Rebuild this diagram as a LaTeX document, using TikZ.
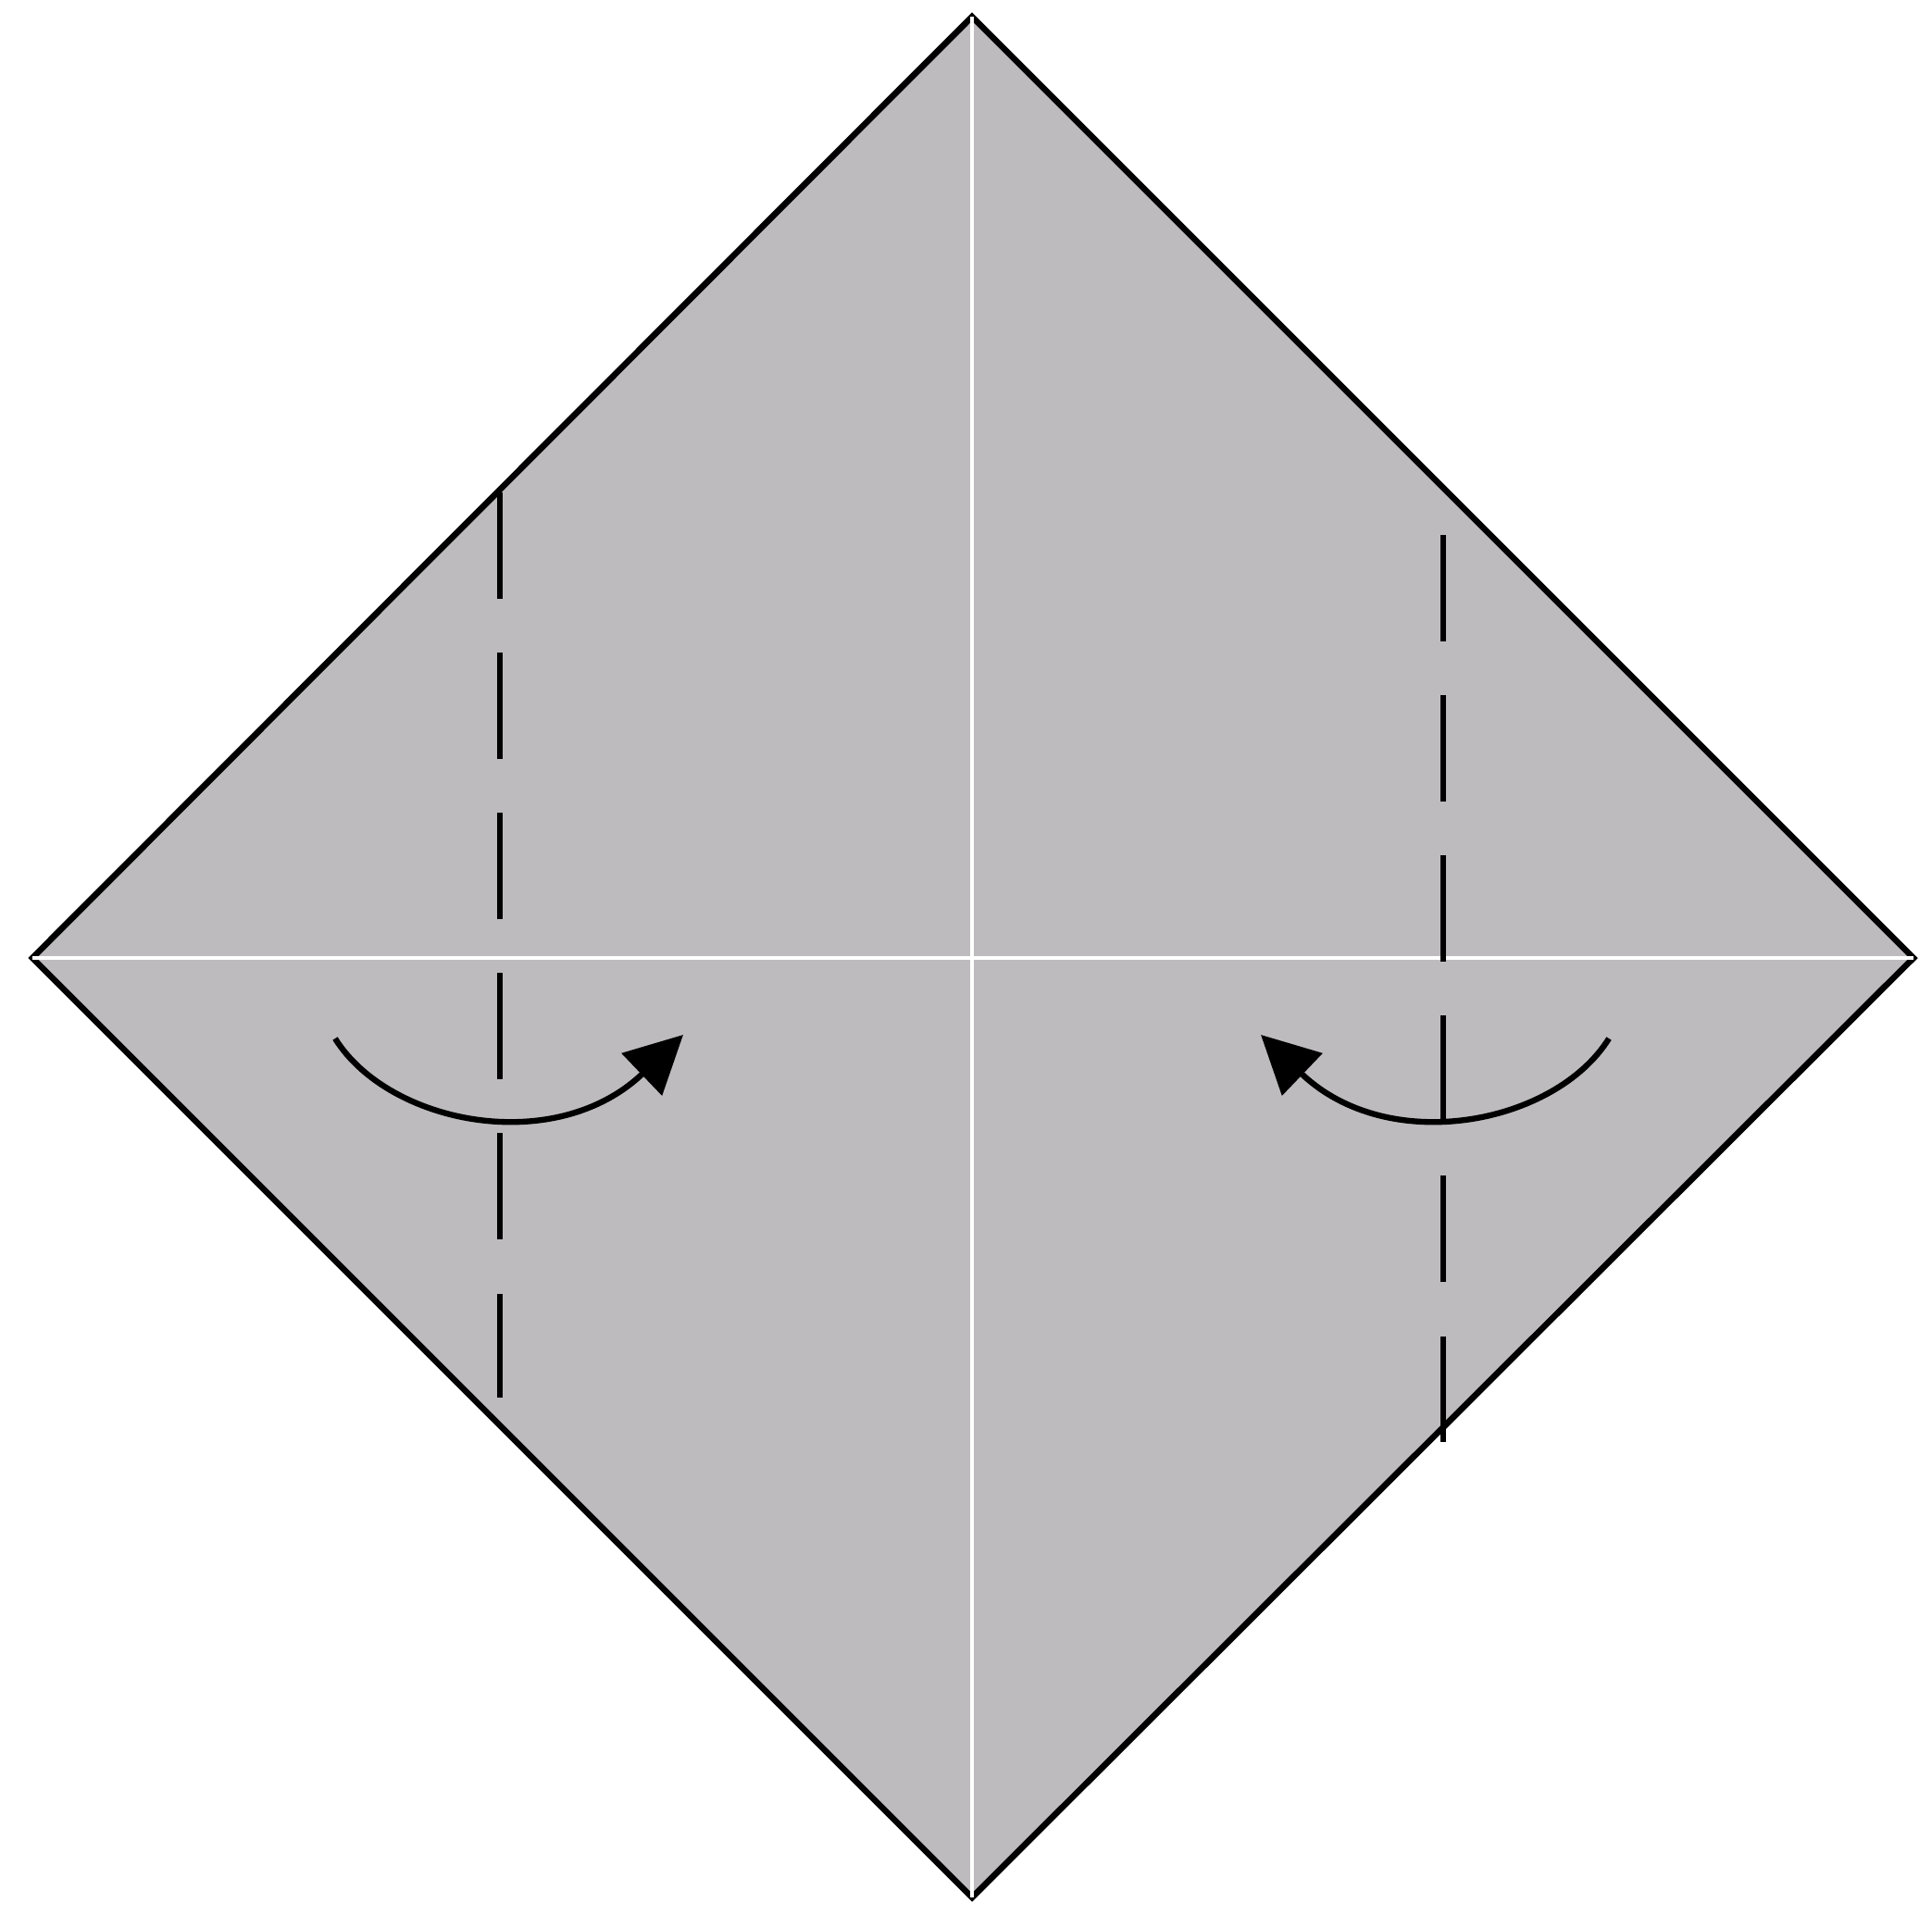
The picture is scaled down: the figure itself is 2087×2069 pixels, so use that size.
\documentclass[tikz,border=0pt]{standalone}
\usetikzlibrary{arrows.meta}
\definecolor{paper}{RGB}{190,187,190}
\tikzset{
  sheet/.style={fill=paper, draw=black, line width=1.9pt, line join=miter},
  crease/.style={draw=white, line width=1.4pt},
  valley/.style={draw=black, line width=1.8pt, dash pattern=on 1.15cm off 0.58cm},
  foldarrow/.style={draw=black, line width=1.8pt, -{Triangle[length=0.62cm, width=0.62cm]}}
}
\begin{document}
\begin{tikzpicture}[x=0.01cm, y=-0.01cm]
  \useasboundingbox (0,0) rectangle (2087,2069);
  \fill[white] (0,0) rectangle (2087,2069);
  % vertices
  \coordinate (T) at (1050,18);
  \coordinate (L) at (35,1035);
  \coordinate (R) at (2067,1035);
  \coordinate (B) at (1050,2050);
  % sheet
  \draw[sheet] (T) -- (R) -- (B) -- (L) -- cycle;
  % white creases
  \draw[crease] (T) -- (B);
  \draw[crease] (L) -- (R);
  % valley fold lines
  \coordinate (la) at (540,532);
  \coordinate (lb) at (540,1510);
  \coordinate (ra) at (1559,578);
  \coordinate (rb) at (1559,1558);
  \draw[valley] (la) -- (lb);
  \draw[valley] (ra) -- (rb);
  % fold arrows
  \coordinate (a1s) at (362,1122);
  \coordinate (a1e) at (738,1118);
  \coordinate (a2s) at (1738,1122);
  \coordinate (a2e) at (1362,1118);
  \draw[foldarrow] (a1s) .. controls (420,1215) and (600,1250) .. (a1e);
  \draw[foldarrow] (a2s) .. controls (1680,1215) and (1500,1250) .. (a2e);
\end{tikzpicture}
\end{document}
